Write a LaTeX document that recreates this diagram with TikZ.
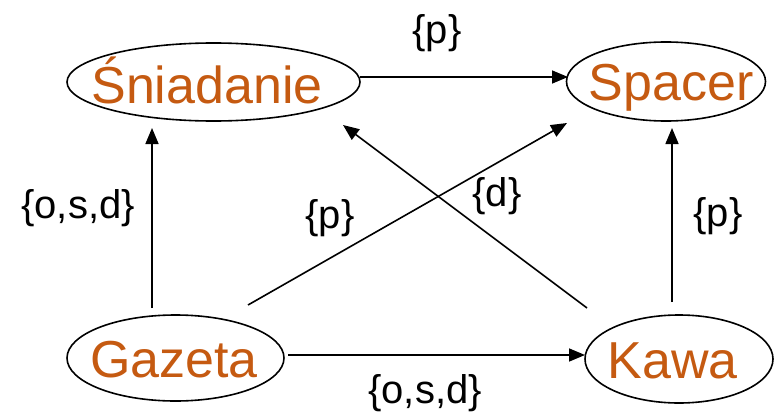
\documentclass[tikz,border=0pt]{standalone}
\usepackage{fontspec}
\setmainfont{Liberation Sans}
\usetikzlibrary{shapes.geometric,arrows.meta,calc}
\definecolor{rust}{HTML}{C55A11}
\begin{document}
\begin{tikzpicture}[x=1pt,y=-1pt,
  state/.style={ellipse,draw,line width=1.6pt,inner sep=0pt},
  acttext/.style={anchor=base,inner sep=0pt,text=rust,
    font=\fontsize{52}{56}\selectfont},
  lbl/.style={font=\fontsize{40}{44}\selectfont,inner sep=0pt},
  arr/.style={line width=1.6pt,-{Triangle[length=16pt,width=13pt]}}]
\useasboundingbox (0,0) rectangle (776,420);
% activities
\node[state,minimum width=293pt,minimum height=78pt] (sn) at (213.5,82) {};
\node[state,minimum width=199pt,minimum height=79pt] (sp) at (666,81.5) {};
\node[state,minimum width=217pt,minimum height=86pt] (g) at (175.5,358) {};
\node[state,minimum width=188pt,minimum height=88pt] (k) at (679,359) {};
\node[acttext] (snt) at (207,103) {Śniadanie};
\node[acttext] (spt) at (671,100) {Spacer};
\node[acttext] (gt) at (174,377) {Gazeta};
\node[acttext] (kt) at (672.5,378) {Kawa};
% relations
\draw[arr] ($(sn.center)+(146.5,-5)$) -- ($(sp.center)+(-98,-4.5)$);
\draw[arr] ($(g.center)+(-23.5,-50)$) -- ($(sn.center)+(-61.5,46)$);
\draw[arr] ($(g.center)+(72.5,-53)$) -- ($(sp.center)+(-99,41.5)$);
\draw[arr] ($(k.center)+(-92,-51)$) -- ($(sn.center)+(129.5,43)$);
\draw[arr] ($(k.center)+(-7,-57)$) -- ($(sp.center)+(6,46.5)$);
\draw[arr] ($(g.center)+(112.5,-3)$) -- ($(k.center)+(-94,-4)$);
% labels
\node[lbl] (l1) at (437,33) {\{p\}};
\node[lbl] (l2) at (78,208) {\{o,s,d\}};
\node[lbl] (l3) at (330,218) {\{p\}};
\node[lbl] (l4) at (497,196) {\{d\}};
\node[lbl] (l5) at (718,216) {\{p\}};
\node[lbl] (l6) at (425,393) {\{o,s,d\}};
\end{tikzpicture}
\end{document}
